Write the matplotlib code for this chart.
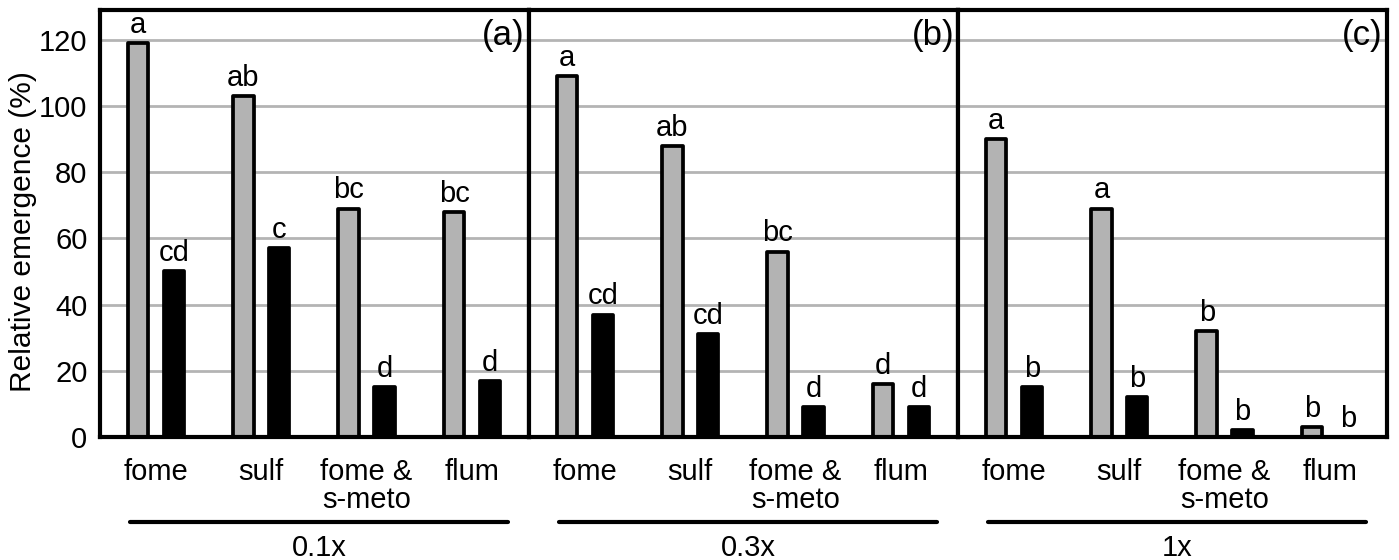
import matplotlib
matplotlib.use("Agg")
import matplotlib.pyplot as plt
from matplotlib.lines import Line2D

plt.rcParams['font.family'] = ['Liberation Sans', 'DejaVu Sans']

categories = ["fome", "sulf", "fome &\ns-meto", "flum"]
groups = ["0.1x", "0.3x", "1x"]
panel_tags = ["(a)", "(b)", "(c)"]
gray_vals = [[119, 103, 69, 68], [109, 88, 56, 16], [90, 69, 32, 3]]
black_vals = [[50, 57, 15, 17], [37, 31, 9, 9], [15, 12, 2, 0]]
gray_letters = [["a", "ab", "bc", "bc"], ["a", "ab", "bc", "d"], ["a", "a", "b", "b"]]
black_letters = [["cd", "c", "d", "d"], ["cd", "cd", "d", "d"], ["b", "b", "b", "b"]]
yticks = [0, 20, 40, 60, 80, 100, 120]

W, H = 1399, 560
fig = plt.figure(figsize=(W / 100, H / 100), dpi=100)

left_px, right_px = 100, 1387
top_px, bottom_px = 10, 437
pw = (right_px - left_px) / 3
GRAY = "#b3b3b3"
FS = 21

for i in range(3):
    x0 = left_px + i * pw
    ax = fig.add_axes([x0 / W, (H - bottom_px) / H, pw / W, (bottom_px - top_px) / H])
    xs = list(range(len(categories)))
    off = 0.17
    bw = 0.195
    gx = [x - off for x in xs]
    bx = [x + off for x in xs]
    ax.bar(gx, gray_vals[i], width=bw, color=GRAY, edgecolor="black",
           linewidth=2.7, zorder=3, joinstyle="round")
    ax.bar(bx, black_vals[i], width=bw, color="black", edgecolor="black",
           linewidth=2.7, zorder=3, joinstyle="round")
    for x, v, t in zip(gx, gray_vals[i], gray_letters[i]):
        ax.annotate(t, (x, v), xytext=(0, 3), textcoords="offset points",
                    ha="center", va="bottom", fontsize=FS, zorder=4)
    for x, v, t in zip(bx, black_vals[i], black_letters[i]):
        ax.annotate(t, (x, v), xytext=(0, 3), textcoords="offset points",
                    ha="center", va="bottom", fontsize=FS, zorder=4)
    ax.set_xlim(-0.532, 3.542)
    ax.set_ylim(0, 129)
    ax.set_yticks(yticks)
    ax.yaxis.grid(True, color="#b4b4b4", linewidth=2.0, zorder=0)
    ax.set_axisbelow(True)
    if i == 0:
        ax.set_yticklabels([str(t) for t in yticks], fontsize=FS)
    else:
        ax.set_yticklabels([])
    ax.tick_params(axis="y", length=0, pad=9)
    ax.set_xticks(xs)
    ax.set_xticklabels(categories, fontsize=FS, linespacing=1.0)
    ax.tick_params(axis="x", length=0, pad=15)
    for s in ax.spines.values():
        s.set_linewidth(3.0)
        s.set_color("black")
        s.set_zorder(5)
    ax.text(1 - 4 / pw, 1 - 25 / (bottom_px - top_px), panel_tags[i],
            transform=ax.transAxes, ha="right", va="center", fontsize=25, zorder=6)
    # group line and label
    lx0 = (x0 + 30) / W
    lx1 = (x0 + pw - 21) / W
    ly = (H - 522) / H
    fig.add_artist(Line2D([lx0, lx1], [ly, ly], transform=fig.transFigure,
                          color="black", linewidth=3.0, solid_capstyle="round"))
    fig.text((lx0 + lx1) / 2, (H - 556) / H, groups[i], ha="center", va="baseline",
             fontsize=FS)

fig.text(23 / W, (H - 232) / H, "Relative emergence (%)", rotation=90,
         ha="center", va="center", fontsize=21.5)

fig.savefig("out.png", dpi=100)
